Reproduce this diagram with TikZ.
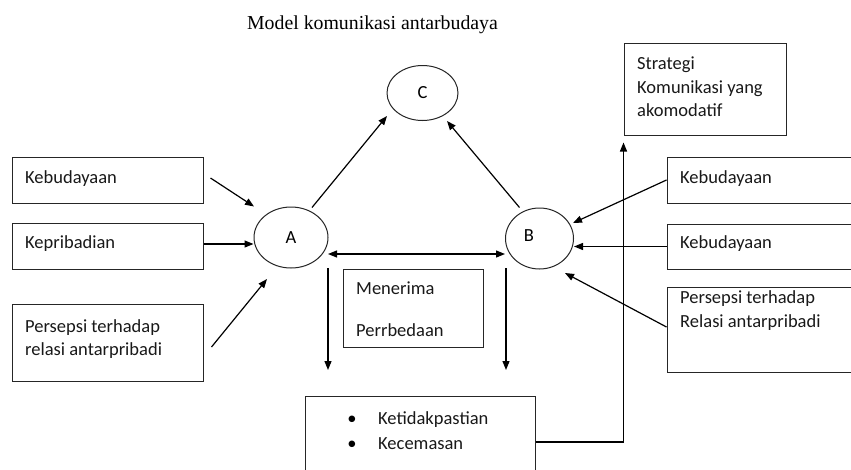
\documentclass[tikz,border=0pt]{standalone}
\usepackage{fontspec}
\setmainfont{Carlito}
\newfontfamily\titlefont{Liberation Serif}
\usetikzlibrary{arrows.meta,shapes.geometric,calc}
\begin{document}
\begin{tikzpicture}[x=1pt,y=-1pt,
  box/.style={draw=black!85, line width=1pt, inner sep=0pt},
  oval/.style={ellipse, draw=black!85, line width=1pt, inner sep=0pt, font=\fontsize{18.5}{22}\selectfont},
  lbl/.style={anchor=base west, inner sep=0pt, font=\fontsize{18.5}{23.5}\selectfont, text=black!90},
  arr/.style={line width=1.2pt, -{Triangle[length=9pt,width=7pt]}},
  darr/.style={line width=1.2pt, {Triangle[length=9pt,width=7pt]}-{Triangle[length=9pt,width=7pt]}}]
\useasboundingbox (0,0) rectangle (851,469);
\clip (0,0) rectangle (851,469);
\fill[white] (0,0) rectangle (851,469);

% title
\node[anchor=base, inner sep=0pt, font=\titlefont\fontsize{19.8}{24}\selectfont] (title) at (372.5,29) {Model komunikasi antarbudaya};

% left boxes
\node[box, minimum width=191pt, minimum height=46pt] (kbL) at (107.5,180) {};
\node[box, minimum width=191pt, minimum height=46pt] (kpL) at (107.5,246) {};
\node[box, minimum width=191pt, minimum height=77pt] (psL) at (107.5,342.5) {};
\node[lbl] (kbLt) at (25,183) {Kebudayaan};
\node[lbl] (kpLt) at (25,248) {Kepribadian};
\node[lbl] (psLt1) at (25,332) {Persepsi terhadap};
\node[lbl] (psLt2) at (25,355) {relasi antarpribadi};

% ellipses
\node[oval, minimum width=74pt, minimum height=61pt] (A) at (291,237.5) {A};
\node[oval, minimum width=68pt, minimum height=61pt] (B) at (539.5,238.5) {};
\node[inner sep=0pt, font=\fontsize{18.5}{22}\selectfont] (Bl) at (529,236) {B};
\node[oval, minimum width=71pt, minimum height=55pt] (C) at (422.5,93) {C};

% middle box
\node[box, minimum width=140pt, minimum height=78pt] (mp) at (413,308) {};
\node[lbl] (mpt1) at (356,294) {Menerima};
\node[lbl] (mpt2) at (356,336) {Perrbedaan};

% bottom box
\node[box, minimum width=230pt, minimum height=79pt] (kc) at (420,435.5) {};
\node[anchor=base, inner sep=0pt, font=\fontsize{18.5}{22}\selectfont] (b1) at (352,424) {•};
\node[anchor=base, inner sep=0pt, font=\fontsize{18.5}{22}\selectfont] (b2) at (352,449) {•};
\node[lbl] (kct1) at (378,424) {Ketidakpastian};
\node[lbl] (kct2) at (378,449) {Kecemasan};

% strategy box
\node[box, minimum width=162pt, minimum height=92pt] (st) at (705,89) {};
\node[lbl] (stt1) at (637,69) {Strategi};
\node[lbl] (stt2) at (637,93) {Komunikasi yang};
\node[lbl] (stt3) at (637,116) {akomodatif};

% right boxes
\node[box, minimum width=193pt, minimum height=46pt] (kbR) at (763.5,180) {};
\node[box, minimum width=193pt, minimum height=45pt] (kbR2) at (763.5,246.5) {};
\node[box, minimum width=193pt, minimum height=85pt] (psR) at (763.5,329.5) {};
\node[lbl] (kbRt) at (680,183) {Kebudayaan};
\node[lbl] (kbR2t) at (680,248) {Kebudayaan};
\node[lbl] (psRt1) at (680,303) {Persepsi terhadap};
\node[lbl] (psRt2) at (680,327) {Relasi antarpribadi};

% arrows into A
\draw[arr] ([shift={(7,-2)}]kbL.east) -- ([shift={(-37,-31)}]A.center);
\draw[arr] ([yshift=2pt]kpL.east) -- ([yshift=2pt]kpL.east -| A.west);
\draw[arr] ([shift={(8,4.5)}]psL.east) -- ([shift={(-24,41.5)}]A.center);

% arrows to C
\draw[arr] ([shift={(21,-30)}]A.center) -- ([shift={(-35.5,23)}]C.center);
\draw[arr] ([shift={(-20,-31)}]B.center) -- ([shift={(24.5,28)}]C.center);

% A <-> B
\draw[darr] ([shift={(37,16.5)}]A.center) -- ([shift={(-34.5,15.5)}]B.center);

% down arrows
\draw[arr] ([shift={(37,30.5)}]A.center) -- ++(0,102);
\draw[arr] ([shift={(-33.5,29.5)}]B.center) -- ++(0,102);

% arrows into B
\draw[arr] (kbR.west) -- ([shift={(33.5,-15.5)}]B.center);
\draw[arr] (kbR2.west) -- (kbR2.west -| B.east);
\draw[arr] ([yshift=2.5pt]psR.west) -- ([shift={(25.5,34.5)}]B.center);

% feedback to strategy
\draw[arr] ([yshift=-6.5pt]kc.east) -| ([yshift=-7pt]st.south west);
\end{tikzpicture}
\end{document}
